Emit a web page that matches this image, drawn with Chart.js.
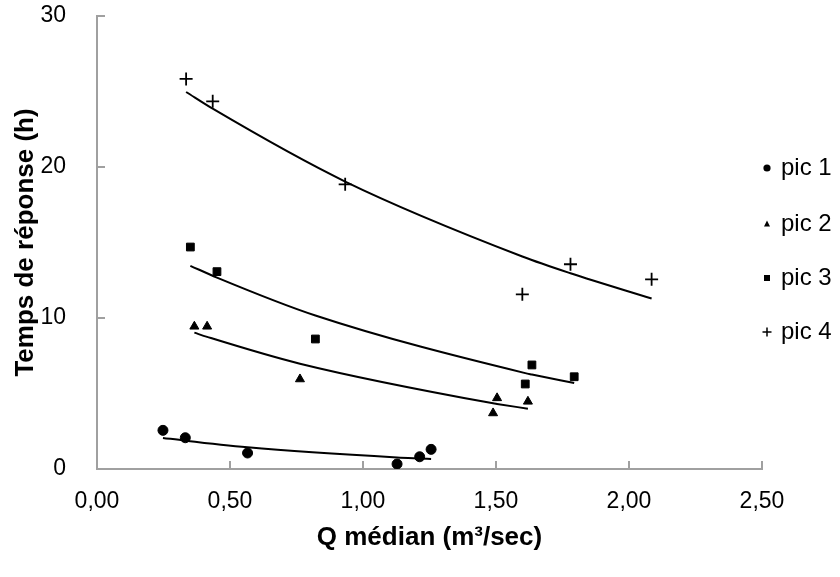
<!DOCTYPE html>
<html>
<head>
<meta charset="utf-8">
<script src="https://cdn.jsdelivr.net/npm/chart.js"></script>
<style>
  html, body { margin: 0; padding: 0; background: #fff; }
  #wrap { width: 840px; height: 577px; }
</style>
</head>
<body>
<div id="wrap"><canvas id="chart" width="840" height="577"></canvas></div>
<script>
// values
const pic1X = [0.248, 0.332, 0.566, 1.128, 1.213, 1.256];
const pic1Y = [2.56, 2.07, 1.06, 0.33, 0.81, 1.30];
const pic2X = [0.366, 0.414, 0.763, 1.489, 1.504, 1.620];
const pic2Y = [9.44, 9.44, 5.95, 3.70, 4.70, 4.47];
const pic3X = [0.351, 0.451, 0.821, 1.610, 1.635, 1.794];
const pic3Y = [14.70, 13.07, 8.61, 5.63, 6.89, 6.11];
const pic4X = [0.335, 0.435, 0.933, 1.599, 1.780, 2.085];
const pic4Y = [25.83, 24.35, 18.85, 11.57, 13.56, 12.56];

const seriesNames = ['pic 1', 'pic 2', 'pic 3', 'pic 4'];
const pointStyles = ['circle', 'triangle', 'rect', 'cross'];
const xTicks = [0, 0.5, 1, 1.5, 2, 2.5];
const yTicks = [0, 10, 20, 30];

const FONT = "'Liberation Sans', Arial, sans-serif";
const AXIS_GREY = '#a0a0a0';

function toPoints(xs, ys) {
  return xs.map((x, i) => ({ x: x, y: ys[i] }));
}

// exponential trendline (least squares on ln y), like the spreadsheet one
function expTrend(xs, ys) {
  const n = xs.length;
  const ly = ys.map(v => Math.log(v));
  const mx = xs.reduce((s, v) => s + v, 0) / n;
  const my = ly.reduce((s, v) => s + v, 0) / n;
  let sxy = 0, sxx = 0;
  for (let i = 0; i < n; i++) {
    sxy += (xs[i] - mx) * (ly[i] - my);
    sxx += (xs[i] - mx) * (xs[i] - mx);
  }
  const b = sxy / sxx;
  const a = Math.exp(my - b * mx);
  return xs.slice().sort((p, q) => p - q).map(x => ({ x: x, y: a * Math.exp(b * x) }));
}

const allX = [pic1X, pic2X, pic3X, pic4X];
const allY = [pic1Y, pic2Y, pic3Y, pic4Y];
const markerRadius = [5, 5.2, 5.5, 6.5];

const datasets = [];
seriesNames.forEach((name, i) => {
  datasets.push({
    label: name,
    data: toPoints(allX[i], allY[i]),
    showLine: false,
    pointStyle: pointStyles[i],
    pointRadius: markerRadius[i],
    pointHoverRadius: markerRadius[i],
    pointBackgroundColor: '#000',
    pointBorderColor: '#000',
    pointBorderWidth: i === 3 ? 1.8 : 1,
    order: 1
  });
});
seriesNames.forEach((name, i) => {
  datasets.push({
    label: name + ' trend',
    data: expTrend(allX[i], allY[i]),
    showLine: true,
    borderColor: '#000',
    borderWidth: 2,
    pointRadius: 0,
    cubicInterpolationMode: 'monotone',
    fill: false,
    order: 2
  });
});

// small tick marks pointing into the plot
const innerTicks = {
  id: 'innerTicks',
  afterDraw(chart) {
    const { ctx, chartArea, scales } = chart;
    ctx.save();
    ctx.strokeStyle = AXIS_GREY;
    ctx.lineWidth = 2;
    ctx.beginPath();
    yTicks.slice(1).forEach(v => {
      const y = Math.round(scales.y.getPixelForValue(v));
      ctx.moveTo(chartArea.left, y);
      ctx.lineTo(chartArea.left + 8, y);
    });
    xTicks.slice(1).forEach(v => {
      const x = Math.round(scales.x.getPixelForValue(v));
      ctx.moveTo(x, chartArea.bottom);
      ctx.lineTo(x, chartArea.bottom - 8);
    });
    ctx.stroke();
    ctx.restore();
  }
};

// legend on the right, overlapping the plot's right end like the original
const sideLegend = {
  id: 'sideLegend',
  afterDraw(chart) {
    const ctx = chart.ctx;
    const mx = 767, tx = 781;
    const rows = [168, 224, 278, 332];
    ctx.save();
    ctx.fillStyle = '#000';
    ctx.strokeStyle = '#000';
    ctx.font = '24px ' + FONT;
    ctx.textBaseline = 'middle';
    rows.forEach((y, i) => {
      ctx.beginPath();
      if (i === 0) {
        ctx.arc(mx, y, 3.6, 0, Math.PI * 2);
        ctx.fill();
      } else if (i === 1) {
        ctx.moveTo(mx, y - 3.5);
        ctx.lineTo(mx + 3, y + 2.5);
        ctx.lineTo(mx - 3, y + 2.5);
        ctx.closePath();
        ctx.fill();
      } else if (i === 2) {
        ctx.fillRect(mx - 3, y - 3, 6, 6);
      } else {
        ctx.lineWidth = 1.5;
        ctx.moveTo(mx - 4.5, y);
        ctx.lineTo(mx + 4.5, y);
        ctx.moveTo(mx, y - 4.5);
        ctx.lineTo(mx, y + 4.5);
        ctx.stroke();
      }
      ctx.fillText(seriesNames[i], tx, y);
    });
    ctx.restore();
  }
};

new Chart(document.getElementById('chart'), {
  type: 'scatter',
  data: { datasets: datasets },
  options: {
    responsive: false,
    animation: false,
    devicePixelRatio: 1,
    layout: { padding: { left: 0, right: 78, top: 16, bottom: 0 } },
    plugins: {
      legend: { display: false },
      tooltip: { enabled: false }
    },
    scales: {
      x: {
        type: 'linear',
        min: 0,
        max: 2.5,
        afterBuildTicks: s => { s.ticks = xTicks.map(v => ({ value: v })); },
        afterFit: s => { s.height = 108; s.paddingLeft = 0; s.paddingRight = 0; },
        grid: { display: false },
        border: { display: true, color: AXIS_GREY, width: 2 },
        ticks: {
          color: '#000',
          padding: 11,
          autoSkip: false,
          maxRotation: 0,
          font: { family: FONT, size: 23 },
          callback: v => v.toFixed(2).replace('.', ',')
        },
        title: {
          display: true,
          text: 'Q médian (m³/sec)',
          color: '#000',
          font: { family: FONT, size: 26, weight: 'bold' },
          padding: { top: 0, bottom: 24 }
        }
      },
      y: {
        min: 0,
        max: 30,
        afterBuildTicks: s => { s.ticks = yTicks.map(v => ({ value: v })); },
        afterFit: s => { s.width = 97; s.paddingTop = 0; s.paddingBottom = 0; },
        grid: { display: false },
        border: { display: true, color: AXIS_GREY, width: 2 },
        ticks: {
          color: '#000',
          padding: 23,
          font: { family: FONT, size: 23 }
        },
        title: {
          display: true,
          text: 'Temps de réponse (h)',
          color: '#000',
          font: { family: FONT, size: 26, weight: 'bold' },
          padding: { top: 10, bottom: 0 }
        }
      }
    }
  },
  plugins: [innerTicks, sideLegend]
});
</script>
</body>
</html>
